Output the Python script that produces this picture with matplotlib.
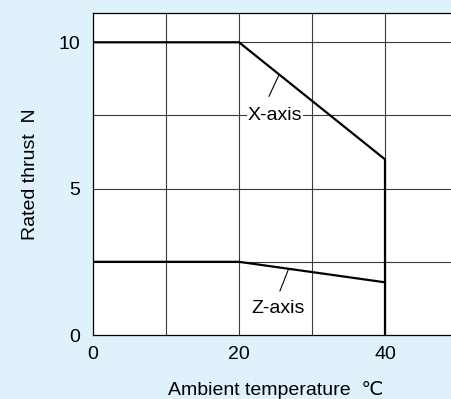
import numpy as np
import matplotlib
matplotlib.use('Agg')
import matplotlib.pyplot as plt

plt.rcParams['font.family'] = ['Liberation Sans', 'DejaVu Sans']

# derating curves: ambient temperature (C) vs rated thrust (N)
temp_x = [0, 20, 40, 40]
thrust_x = [10, 10, 6, 0]
temp_z = [0, 20, 40]
thrust_z = [2.5, 2.5, 1.8]

x_ticks = [0, 20, 40]
y_ticks = [0, 5, 10]

bg = '#dff1fa'
fig = plt.figure(figsize=(4.51, 3.99), dpi=100, facecolor=bg)
ax = fig.add_axes([93 / 451, 64 / 399, 365 / 451, 322 / 399])
ax.set_facecolor('white')

ax.set_xlim(0, 50)
ax.set_ylim(0, 11)

# grid
for gx in [10, 20, 30, 40]:
    ax.axvline(gx, color='#3a3a3a', lw=0.8, zorder=1)
for gy in [2.5, 5, 7.5, 10]:
    ax.axhline(gy, color='#3a3a3a', lw=0.8, zorder=1)

ax.plot(temp_x, thrust_x, color='black', lw=1.6, zorder=3, solid_joinstyle='miter')
ax.plot(temp_z, thrust_z, color='black', lw=1.6, zorder=3)

# labels with leader lines
def tag(text, tx, ty, lead_x0, lead_y0, lead_x1, xs, ys):
    ax.text(tx, ty, text, ha='center', va='center', fontsize=14, zorder=4,
            bbox=dict(boxstyle='square,pad=0.05', fc='white', ec='none'))
    ax.annotate('', xy=(lead_x1, np.interp(lead_x1, xs, ys)), xytext=(lead_x0, lead_y0),
                arrowprops=dict(arrowstyle='-', color='black', lw=0.8,
                                shrinkA=0, shrinkB=0), zorder=4)

tag('X-axis', 24.9, 7.5, 24.1, 8.15, 25.5, temp_x[:3], thrust_x[:3])
tag('Z-axis', 25.3, 0.92, 25.6, 1.5, 26.8, temp_z, thrust_z)

ax.set_xticks(x_ticks)
ax.set_yticks(y_ticks)
ax.tick_params(length=0, labelsize=14, colors='black')
ax.tick_params(axis='x', pad=8)
ax.tick_params(axis='y', pad=9)

for s in ['left', 'bottom', 'top']:
    ax.spines[s].set_linewidth(0.9)
ax.spines['right'].set_visible(False)

ax.set_xlabel('Ambient temperature  \u2103', fontsize=14, labelpad=13)
ax.set_ylabel('Rated thrust  N', fontsize=14, labelpad=14)

fig.savefig('out.png', dpi=100, facecolor=bg)
